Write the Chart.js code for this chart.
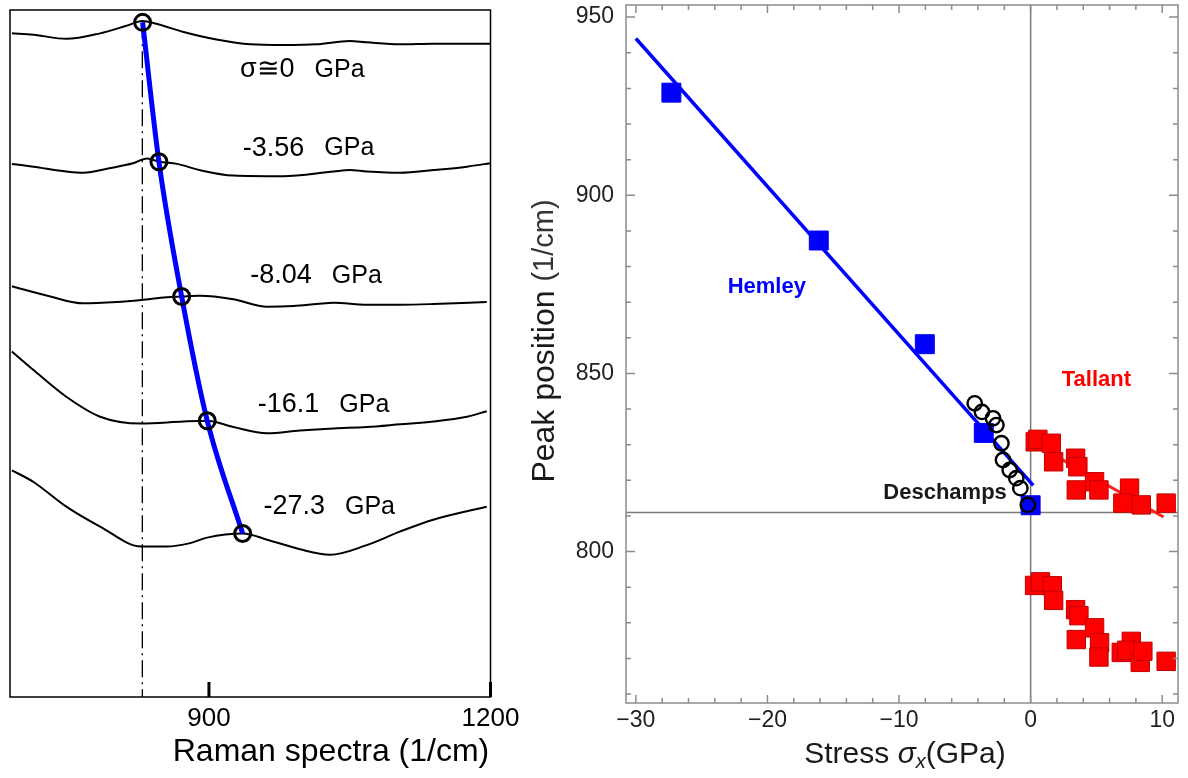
<!DOCTYPE html>
<html>
<head>
<meta charset="utf-8">
<script src="https://cdn.jsdelivr.net/npm/chart.js@4.4.0/dist/chart.umd.min.js"></script>
<style>
  html, body { margin: 0; padding: 0; background: #fff; }
  canvas { position: absolute; top: 0; }
  #left { left: 0; }
  #right { left: 520px; }
</style>
</head>
<body>
<canvas id="left" width="520" height="778"></canvas>
<canvas id="right" width="668" height="778"></canvas>
<script>
const FONT = "'Liberation Sans', Arial, sans-serif";

// ---- left panel: Raman spectra (shift in 1/cm, stacked intensity a.u.)
const ramanRange = [688, 1200];
const ramanTicks = [900, 1200];
const spec0 = [[690,96.6],[713,96.4],[748,95.8],[784,96.6],[812,97.7],[829,98.4],[844,98.0],[873,96.8],[908,95.7],[944,95.0],[979,94.9],[1015,95.0],[1050,95.5],[1068,95.3],[1104,95.0],[1139,95.1],[1200,95.1]];
const spec1 = [[690,77.6],[713,77.2],[748,76.5],[766,76.3],[795,77.0],[819,77.7],[834,78.4],[847,77.9],[866,77.6],[890,76.7],[926,75.9],[979,75.8],[1033,76.5],[1050,76.7],[1068,76.5],[1104,76.3],[1139,76.7],[1175,77.2],[1200,77.7]];
const spec2 = [[690,59.8],[731,58.3],[766,57.3],[802,57.5],[828,57.8],[855,58.2],[871,58.3],[890,58.4],[926,57.9],[962,56.8],[990,56.9],[1015,57.2],[1033,57.4],[1068,57.1],[1104,57.1],[1139,57.2],[1196,57.5]];
const spec3 = [[690,50.3],[713,47.6],[748,43.7],[784,40.8],[828,39.8],[873,40.1],[898,40.2],[926,39.3],[962,38.4],[997,38.8],[1033,39.1],[1068,39.3],[1104,39.7],[1139,40.1],[1175,40.8],[1196,41.6]];
const spec4 = [[690,33.0],[713,31.3],[748,27.7],[784,24.8],[828,21.9],[855,21.9],[880,22.4],[898,23.2],[936,23.8],[962,22.9],[997,21.5],[1029,20.7],[1068,22.1],[1104,24.1],[1139,25.8],[1196,27.7]];
const peakShift = [829.3, 846.7, 870.9, 898.2, 935.9];
const peakHeight = [98.2, 77.9, 58.3, 40.2, 23.8];
const unstressedPeak = 829;
const stressNames = ['σ≅0', '-3.56', '-8.04', '-16.1', '-27.3'];
const stressNameAt = [[933,91.3],[936,79.9],[944,61.3],[952,42.5],[958,27.7]];

// ---- right panel: peak position vs stress
const stressRange = [-30.75, 11.2];
const peakRange = [757.5, 953.4];
const stressMajor = [-30, -20, -10, 0, 10];
const stressMinor = [-30,-28,-26,-24,-22,-20,-18,-16,-14,-12,-10,-8,-6,-4,-2,0,2,4,6,8,10];
const peakMajor = [800, 850, 900, 950];
const peakMinor = [760,770,780,790,800,810,820,830,840,850,860,870,880,890,900,910,920,930,940,950];
const zeroStressPeak = 811;

const hemleyStress = [-27.3, -16.1, -8.04, -3.56, 0];
const hemleyPeak = [928.8, 887.3, 858.2, 833.3, 813.0];
const hemleyFit = [[-30, 944.0], [0.2, 818.6]];

const deschampsStress = [-4.25, -3.70, -2.86, -2.60, -2.22, -2.10, -1.59, -1.09, -0.78, -0.21];
const deschampsPeak = [841.6, 839.2, 837.4, 835.5, 830.4, 825.7, 822.9, 820.6, 817.8, 813.1];

const tallantStress = [0.35, 0.55, 1.57, 1.75, 3.42, 3.59, 3.47, 4.86, 5.19, 7.52, 7.01, 8.41, 10.30];
const tallantPeak = [830.8, 831.5, 830.4, 825.2, 826.2, 823.8, 817.3, 819.6, 817.3, 817.8, 813.6, 813.1, 813.6];
const tallantFit = [[0.5, 829.8], [10.1, 809.7]];

const tallantStress2 = [0.30, 0.75, 1.65, 1.75, 3.42, 3.67, 4.86, 3.47, 5.24, 5.19, 6.89, 7.65, 7.31, 8.33, 8.53, 10.30];
const tallantPeak2 = [790.5, 791.5, 790.4, 786.3, 783.7, 782.0, 778.6, 775.3, 774.4, 770.4, 771.7, 774.8, 772.3, 768.9, 772.0, 769.2];

const groupNames = [
  { text: 'Hemley', at: [-20.05, 874.2], color: '#0000ff' },
  { text: 'Tallant', at: [5.0, 848.1], color: '#ff0000' },
  { text: 'Deschamps', at: [-6.5, 816.5], color: '#1a1a1a' }
];

const pts = a => a.map(p => ({ x: p[0], y: p[1] }));
const zip = (xs, ys) => xs.map((v, i) => ({ x: v, y: ys[i] }));
// keep the plot box where it is, whatever the tick labels ask for
const noPad = s => { s.paddingLeft = 0; s.paddingRight = 0; s.paddingTop = 0; s.paddingBottom = 0; };

// ---------- left chart
const spectrumSet = d => ({
  data: pts(d), showLine: true, borderColor: '#000', borderWidth: 2,
  pointRadius: 0, cubicInterpolationMode: 'monotone', order: 3
});

const leftDecor = {
  id: 'leftDecor',
  afterDatasetsDraw(chart) {
    const { ctx, chartArea: a, scales: { x, y } } = chart;
    ctx.save();
    ctx.strokeStyle = '#000';
    ctx.lineWidth = 1.5;
    ctx.strokeRect(a.left, a.top, a.right - a.left, a.bottom - a.top);
    ctx.lineWidth = 3;
    ctx.beginPath();
    ramanTicks.forEach(v => {
      const px = x.getPixelForValue(v);
      ctx.moveTo(px, a.bottom); ctx.lineTo(px, a.bottom - 15);
    });
    ctx.stroke();

    ctx.fillStyle = '#000';
    ctx.textBaseline = 'middle';
    ctx.textAlign = 'left';
    stressNames.forEach((s, i) => {
      const px = x.getPixelForValue(stressNameAt[i][0]);
      const py = y.getPixelForValue(stressNameAt[i][1]);
      ctx.font = '27px ' + FONT;
      ctx.fillText(s, px, py);
      const w = ctx.measureText(s).width;
      ctx.font = '25px ' + FONT;
      ctx.fillText('GPa', px + w + 20, py);
    });

    ctx.textAlign = 'center';
    ctx.font = '32px ' + FONT;
    ctx.fillText('Raman spectra (1/cm)', 331, 752);
    ctx.restore();
  }
};

new Chart(document.getElementById('left'), {
  type: 'scatter',
  data: {
    datasets: [
      { data: [{ x: unstressedPeak, y: peakHeight[0] }, { x: unstressedPeak, y: 0 }], showLine: true,
        borderColor: '#000', borderWidth: 1.3, borderDash: [17, 5, 2, 5], pointRadius: 0, order: 4 },
      spectrumSet(spec0), spectrumSet(spec1), spectrumSet(spec2), spectrumSet(spec3), spectrumSet(spec4),
      { data: zip(peakShift, peakHeight), showLine: true, borderColor: '#0000ff', borderWidth: 5,
        cubicInterpolationMode: 'monotone', pointRadius: 0, order: 2 },
      { data: zip(peakShift, peakHeight), showLine: false, pointRadius: 8, pointBorderWidth: 3,
        pointBorderColor: '#000', pointBackgroundColor: 'rgba(0,0,0,0)', order: 1 }
    ]
  },
  options: {
    responsive: false, animation: false,
    layout: { autoPadding: false, padding: { left: 10, right: 29.5, top: 10, bottom: 0 } },
    plugins: { legend: { display: false }, tooltip: { enabled: false } },
    scales: {
      x: {
        type: 'linear', min: ramanRange[0], max: ramanRange[1],
        afterBuildTicks: s => { s.ticks = ramanTicks.map(v => ({ value: v })); },
        afterFit: s => { s.height = 81; noPad(s); },
        grid: { display: false, drawTicks: false }, border: { display: false },
        ticks: { font: { size: 26, family: FONT }, color: '#000', padding: 6, maxRotation: 0, autoSkip: false,
          callback: v => String(v) }
      },
      y: { display: false, min: 0, max: 100 }
    }
  },
  plugins: [leftDecor]
});

// ---------- right chart
const rightDecor = {
  id: 'rightDecor',
  afterDatasetsDraw(chart) {
    const { ctx, chartArea: a, scales: { x, y } } = chart;
    ctx.save();
    ctx.strokeStyle = '#8c8c8c';
    ctx.lineWidth = 1.5;
    ctx.strokeRect(a.left, a.top, a.right - a.left, a.bottom - a.top);
    ctx.beginPath();
    stressMinor.forEach(v => {
      const px = x.getPixelForValue(v);
      const len = stressMajor.includes(v) ? 8 : 5;
      ctx.moveTo(px, a.bottom); ctx.lineTo(px, a.bottom - len);
      ctx.moveTo(px, a.top); ctx.lineTo(px, a.top + len);
    });
    peakMinor.forEach(v => {
      const py = y.getPixelForValue(v);
      const len = peakMajor.includes(v) ? 9 : 5;
      ctx.moveTo(a.left, py); ctx.lineTo(a.left + len, py);
      ctx.moveTo(a.right, py); ctx.lineTo(a.right - len, py);
    });
    ctx.stroke();

    ctx.textAlign = 'center';
    ctx.textBaseline = 'middle';
    ctx.font = 'bold 22px ' + FONT;
    groupNames.forEach(g => {
      ctx.fillStyle = g.color;
      ctx.fillText(g.text, x.getPixelForValue(g.at[0]), y.getPixelForValue(g.at[1]));
    });

    // axis titles
    ctx.fillStyle = '#1a1a1a';
    ctx.textAlign = 'left';
    ctx.save();
    ctx.translate(25, 341);
    ctx.rotate(-Math.PI / 2);
    ctx.font = '32px ' + FONT;
    const t1 = 'Peak position ';
    const w1 = ctx.measureText(t1).width;
    ctx.font = '29px ' + FONT;
    const w2 = ctx.measureText('(1/cm)').width;
    const sx = -(w1 + w2) / 2;
    ctx.font = '32px ' + FONT;
    ctx.fillText(t1, sx, 0);
    ctx.font = '29px ' + FONT;
    ctx.fillStyle = '#333';
    ctx.fillText('(1/cm)', sx + w1, 0);
    ctx.restore();

    const parts = [
      ['Stress ', '30px ' + FONT, 0],
      ['σ', 'italic 30px ' + FONT, 0],
      ['x', 'italic 20px ' + FONT, 7],
      ['(GPa)', '30px ' + FONT, 0]
    ];
    let total = 0;
    parts.forEach(p => { ctx.font = p[1]; total += ctx.measureText(p[0]).width; });
    let cx = 385 - total / 2;
    parts.forEach(p => {
      ctx.font = p[1];
      ctx.fillText(p[0], cx, 755 + p[2]);
      cx += ctx.measureText(p[0]).width;
    });
    ctx.restore();
  }
};

const squareSet = (xs, ys, fill, edge, r, ord) => ({
  data: zip(xs, ys), showLine: false, pointStyle: 'rect', pointRadius: r,
  pointBackgroundColor: fill, pointBorderColor: edge, pointBorderWidth: 1, order: ord
});

new Chart(document.getElementById('right'), {
  type: 'scatter',
  data: {
    datasets: [
      { data: [{ x: stressRange[0], y: zeroStressPeak }, { x: stressRange[1], y: zeroStressPeak }], showLine: true,
        borderColor: '#7a7a7a', borderWidth: 1.5, pointRadius: 0, order: 9 },
      { data: [{ x: 0, y: peakRange[0] }, { x: 0, y: peakRange[1] }], showLine: true,
        borderColor: '#7a7a7a', borderWidth: 1.5, pointRadius: 0, order: 9 },
      { data: pts(tallantFit), showLine: true, borderColor: '#ff2020', borderWidth: 3, pointRadius: 0, order: 8 },
      squareSet(hemleyStress, hemleyPeak, '#0000ff', '#0000ee', 13.4, 7),
      { data: pts(hemleyFit), showLine: true, borderColor: '#0000ff', borderWidth: 3.5, pointRadius: 0, order: 6 },
      { data: zip(deschampsStress, deschampsPeak), showLine: false, pointRadius: 7.2, pointBorderWidth: 2.4,
        pointBorderColor: '#000', pointBackgroundColor: 'rgba(255,255,255,0)', order: 5 },
      squareSet(tallantStress, tallantPeak, '#ff0000', '#c00000', 13, 4),
      squareSet(tallantStress2, tallantPeak2, '#ff0000', '#c00000', 13, 4)
    ]
  },
  options: {
    responsive: false, animation: false,
    layout: { autoPadding: false, padding: { left: 0, right: 10, top: 5, bottom: 0 } },
    plugins: { legend: { display: false }, tooltip: { enabled: false } },
    scales: {
      x: {
        type: 'linear', min: stressRange[0], max: stressRange[1],
        afterBuildTicks: s => { s.ticks = stressMajor.map(v => ({ value: v })); },
        afterFit: s => { s.height = 75; noPad(s); },
        grid: { display: false, drawTicks: false }, border: { display: false },
        ticks: { font: { size: 23, family: FONT }, color: '#222', padding: 4, maxRotation: 0, autoSkip: false,
          callback: v => v < 0 ? '\u2212' + Math.abs(v) : String(v) }
      },
      y: {
        type: 'linear', min: peakRange[0], max: peakRange[1],
        afterBuildTicks: s => { s.ticks = peakMajor.map(v => ({ value: v })); },
        afterFit: s => { s.width = 106; noPad(s); },
        grid: { display: false, drawTicks: false }, border: { display: false },
        ticks: { font: { size: 23, family: FONT }, color: '#222', padding: 12, autoSkip: false }
      }
    }
  },
  plugins: [rightDecor]
});
</script>
</body>
</html>
